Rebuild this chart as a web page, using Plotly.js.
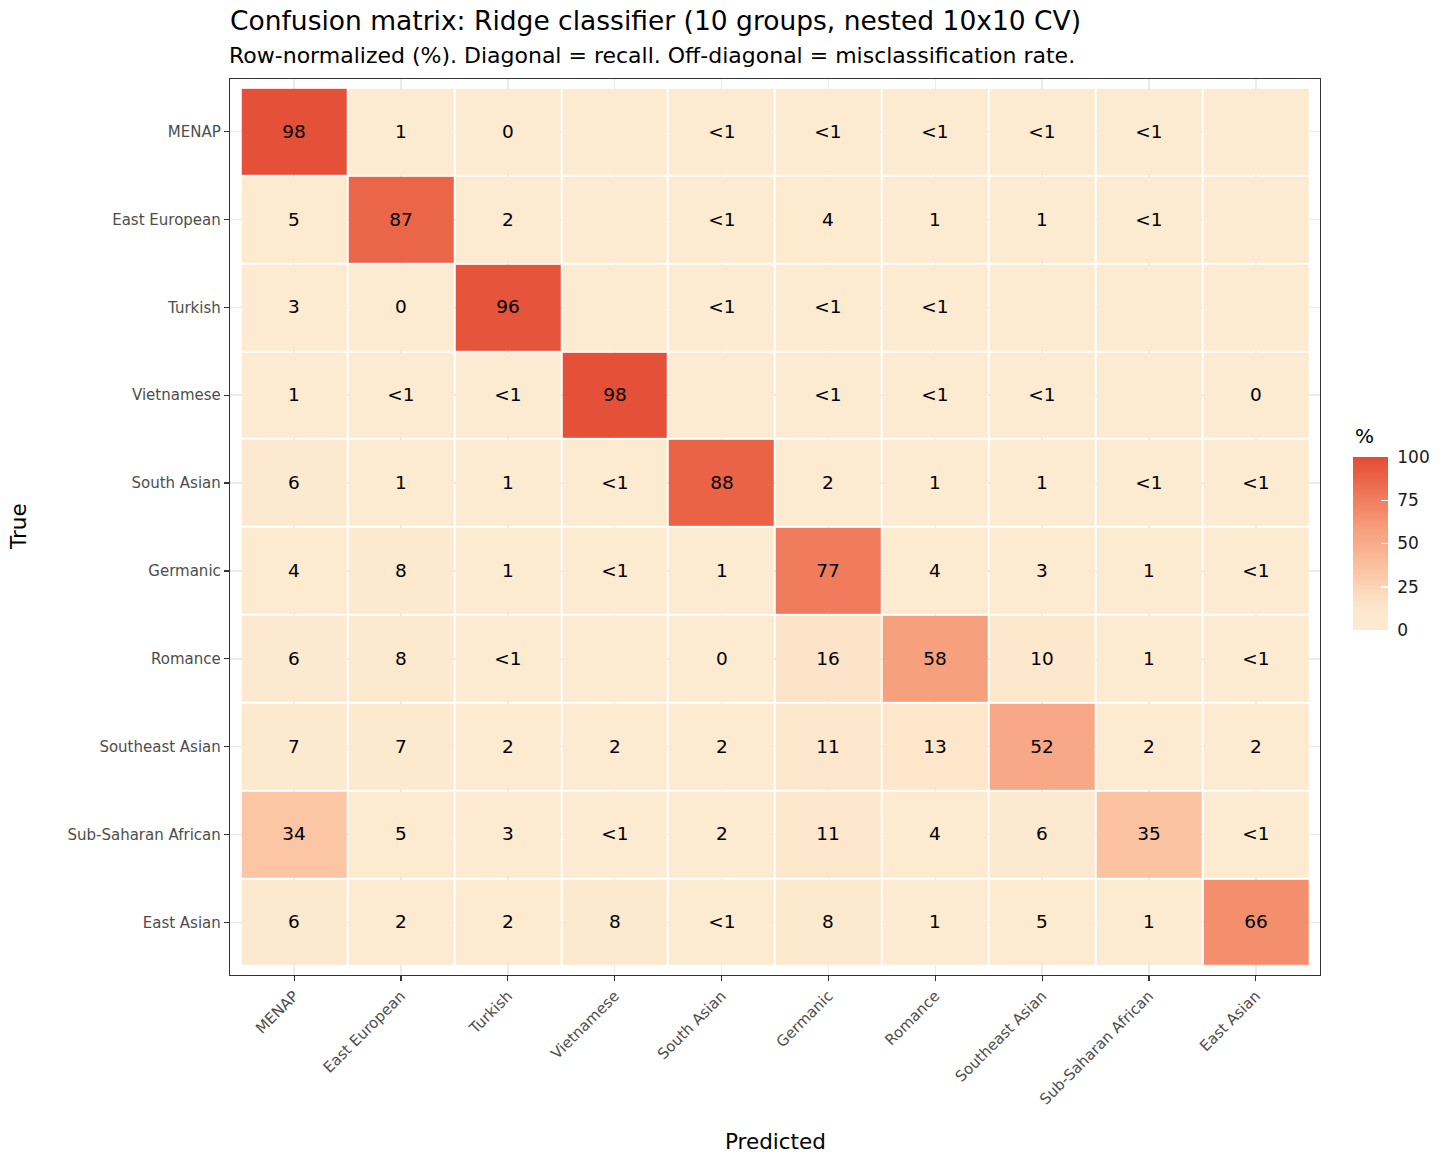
<!DOCTYPE html>
<html>
<head>
<meta charset="utf-8">
<script src="https://cdn.plot.ly/plotly-3.0.1.min.js"></script>
<style>html,body{margin:0;padding:0;background:#fff;}#chart{width:1456px;height:1165px;}</style>
</head>
<body>
<div id="chart"></div>
<script>
// ---- data ----
const groups = ["MENAP","East European","Turkish","Vietnamese","South Asian","Germanic","Romance","Southeast Asian","Sub-Saharan African","East Asian"];
// cell labels (rows = true class, columns = predicted class), as printed
const rowMENAP        = ["98","1","0","","<1","<1","<1","<1","<1",""];
const rowEastEuropean = ["5","87","2","","<1","4","1","1","<1",""];
const rowTurkish      = ["3","0","96","","<1","<1","<1","","",""];
const rowVietnamese   = ["1","<1","<1","98","","<1","<1","<1","","0"];
const rowSouthAsian   = ["6","1","1","<1","88","2","1","1","<1","<1"];
const rowGermanic     = ["4","8","1","<1","1","77","4","3","1","<1"];
const rowRomance      = ["6","8","<1","","0","16","58","10","1","<1"];
const rowSEAsian      = ["7","7","2","2","2","11","13","52","2","2"];
const rowSubSaharan   = ["34","5","3","<1","2","11","4","6","35","<1"];
const rowEastAsian    = ["6","2","2","8","<1","8","1","5","1","66"];
const labels = [rowMENAP,rowEastEuropean,rowTurkish,rowVietnamese,rowSouthAsian,rowGermanic,rowRomance,rowSEAsian,rowSubSaharan,rowEastAsian];
const legendTicks = [0,25,50,75,100];

// numeric values for fill
const z = labels.map(r => r.map(s => s === "" ? 0 : (s === "<1" ? 0.5 : parseFloat(s))));

const colorscale = [
  [0.00, "#FDEBD1"],
  [0.10, "#FDE8CD"],
  [0.16, "#FDE3C7"],
  [0.34, "#FCC5A4"],
  [0.52, "#F8A887"],
  [0.58, "#F7A07E"],
  [0.66, "#F48F6E"],
  [0.77, "#F07B5D"],
  [0.87, "#EB6549"],
  [0.98, "#E45038"],
  [1.00, "#E34A33"]
];

const FONT = "DejaVu Sans, Liberation Sans, sans-serif";
const W=1456,H=1165, mL=230, mR=1456-1320, mT=79, mB=1165-975;
const PW=1090, PH=896;

const trace = {
  type: "heatmap",
  x: groups, y: groups, z: z, text: labels,
  texttemplate: "%{text}",
  textfont: {family: FONT, size: 18.5, color: "#000"},
  colorscale: colorscale, zmin: 0, zmax: 100,
  xgap: 2, ygap: 2,
  hoverinfo: "skip",
  colorbar: {
    thickness: 35, thicknessmode: "pixels",
    len: 173, lenmode: "pixels",
    xref: "paper", x: (1353-mL)/PW, xanchor: "left", xpad: 0,
    yref: "paper", y: (975-543.5)/PH, yanchor: "middle", ypad: 0,
    outlinewidth: 0,
    tickvals: legendTicks, ticktext: legendTicks.map(v => "\u00a0" + v),
    ticks: "inside", ticklen: 7, tickcolor: "#fff", tickwidth: 1.5,
    tickfont: {family: FONT, size: 17, color: "#1a1a1a"}
  }
};

const axisCommon = {
  type: "category",
  showgrid: true, gridcolor: "#EBEBEB", gridwidth: 1.5,
  zeroline: false,
  showline: true, linecolor: "#333333", linewidth: 1.2, mirror: true,
  ticks: "outside", ticklen: 5, tickcolor: "#333333", tickwidth: 1.2,
  tickfont: {family: FONT, size: 15, color: "#4D4D4D"},
  range: [-0.6, 9.6], fixedrange: true
};

const layout = {
  width: W, height: H,
  margin: {l: mL, r: mR, t: mT, b: mB, pad: 0},
  paper_bgcolor: "#fff", plot_bgcolor: "#fff",
  font: {family: FONT},
  title: {
    text: "Confusion matrix: Ridge classifier (10 groups, nested 10x10 CV)",
    font: {family: FONT, size: 26.5, color: "#000"},
    xref: "paper", x: 0, xanchor: "left",
    yref: "container", y: 1 - 21/H, yanchor: "middle"
  },
  xaxis: Object.assign({}, axisCommon, {tickangle: -45, title: {text: ""}}),
  yaxis: Object.assign({}, axisCommon, {autorange: false, range: [9.6, -0.6], title: {text: ""}}),
  annotations: [
    {text: "Row-normalized (%). Diagonal = recall. Off-diagonal = misclassification rate.",
     xref: "paper", yref: "paper", x: 0, y: (975-55)/PH, xanchor: "left", yanchor: "middle",
     xshift: -3, showarrow: false, font: {family: FONT, size: 22, color: "#000"}},
    {text: "Predicted", xref: "paper", yref: "paper", x: 0.5, y: (975-1141)/PH,
     xanchor: "center", yanchor: "middle", showarrow: false,
     font: {family: FONT, size: 21.5, color: "#000"}},
    {text: "True", xref: "paper", yref: "paper", x: (18-mL)/PW, y: 0.5, textangle: -90,
     xanchor: "center", yanchor: "middle", showarrow: false,
     font: {family: FONT, size: 21.5, color: "#000"}},
    {text: "%", xref: "paper", yref: "paper", x: (1353-mL)/PW, y: (975-436)/PH,
     xanchor: "left", yanchor: "middle", showarrow: false,
     font: {family: FONT, size: 20, color: "#000"}}
  ]
};

Plotly.newPlot("chart", [trace], layout, {displayModeBar: false, staticPlot: true});
</script>
</body>
</html>
